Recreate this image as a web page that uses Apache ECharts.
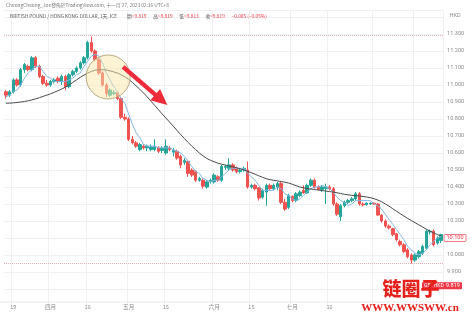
<!DOCTYPE html>
<html><head><meta charset="utf-8">
<script src="https://cdn.jsdelivr.net/npm/echarts@6/dist/echarts.min.js"></script>
<style>html,body{margin:0;padding:0;background:#fff}#c{width:472px;height:318px}</style>
</head><body><div id="c"></div>
<script>
// ---- data (GBP/HKD daily, 2018) ----
const dates = [
'2018-03-15','2018-03-16','2018-03-19','2018-03-20','2018-03-21','2018-03-22','2018-03-23','2018-03-26','2018-03-27','2018-03-28','2018-03-29','2018-03-30',
'2018-04-02','2018-04-03','2018-04-04','2018-04-05','2018-04-06','2018-04-09','2018-04-10','2018-04-11','2018-04-12','2018-04-13','2018-04-16','2018-04-17','2018-04-18','2018-04-19','2018-04-20','2018-04-23','2018-04-24','2018-04-25','2018-04-26','2018-04-27','2018-04-30',
'2018-05-01','2018-05-02','2018-05-03','2018-05-04','2018-05-07','2018-05-08','2018-05-09','2018-05-10','2018-05-11','2018-05-14','2018-05-15','2018-05-16','2018-05-17','2018-05-18','2018-05-21','2018-05-22','2018-05-23','2018-05-24','2018-05-25','2018-05-28','2018-05-29','2018-05-30','2018-05-31',
'2018-06-01','2018-06-04','2018-06-05','2018-06-06','2018-06-07','2018-06-08','2018-06-11','2018-06-12','2018-06-13','2018-06-14','2018-06-15','2018-06-18','2018-06-19','2018-06-20','2018-06-21','2018-06-22','2018-06-25','2018-06-26','2018-06-27','2018-06-28','2018-06-29',
'2018-07-02','2018-07-03','2018-07-04','2018-07-05','2018-07-06','2018-07-09','2018-07-10','2018-07-11','2018-07-12','2018-07-13','2018-07-16','2018-07-17','2018-07-18','2018-07-19','2018-07-20','2018-07-23','2018-07-24','2018-07-25','2018-07-26','2018-07-27','2018-07-30','2018-07-31',
'2018-08-01','2018-08-02','2018-08-03','2018-08-06','2018-08-07','2018-08-08','2018-08-09','2018-08-10','2018-08-13','2018-08-14','2018-08-15','2018-08-16','2018-08-17','2018-08-20','2018-08-21','2018-08-22','2018-08-23','2018-08-24','2018-08-27'];

const opens = [10.96,10.94,10.96,11.03,11.00,11.09,11.11,11.09,11.16,11.11,
 11.05,11.01,11.00,11.02,11.04,11.02,11.05,10.99,11.06,11.08,
 11.10,11.13,11.16,11.25,11.20,11.15,11.07,11.00,10.94,10.95,
 10.955,10.92,10.81,10.80,10.68,10.66,10.62,10.64,10.63,10.62,
 10.62,10.63,10.615,10.60,10.63,10.605,10.61,10.58,10.545,10.55,
 10.50,10.49,10.44,10.44,10.40,10.43,10.43,10.46,10.44,10.515,
 10.51,10.53,10.51,10.49,10.50,10.50,10.40,10.41,10.395,10.34,
 10.37,10.41,10.39,10.40,10.42,10.31,10.28,10.345,10.32,10.35,
 10.38,10.365,10.41,10.44,10.40,10.385,10.39,10.40,10.39,10.30,
 10.225,10.29,10.31,10.32,10.33,10.36,10.30,10.295,10.30,10.305,
 10.30,10.235,10.20,10.17,10.155,10.125,10.08,10.06,10.03,10.00,
 9.97,9.99,10.01,10.04,10.135,10.14,10.07,10.085];
const highs = [10.97,10.97,11.04,11.04,11.10,11.13,11.12,11.17,11.17,11.12,
 11.06,11.03,11.03,11.04,11.05,11.06,11.06,11.07,11.09,11.11,
 11.14,11.17,11.26,11.285,11.21,11.16,11.08,11.01,10.98,10.97,
 10.96,10.93,10.83,10.81,10.70,10.67,10.66,10.65,10.65,10.65,
 10.68,10.64,10.64,10.68,10.64,10.63,10.62,10.59,10.57,10.56,
 10.51,10.50,10.46,10.45,10.44,10.45,10.48,10.47,10.53,10.53,
 10.57,10.54,10.52,10.51,10.52,10.55,10.42,10.42,10.40,10.39,
 10.42,10.42,10.42,10.43,10.43,10.33,10.36,10.35,10.37,10.38,
 10.41,10.42,10.45,10.45,10.41,10.41,10.42,10.41,10.40,10.31,
 10.30,10.32,10.33,10.34,10.37,10.37,10.31,10.31,10.31,10.31,
 10.305,10.24,10.21,10.18,10.16,10.13,10.09,10.07,10.04,10.01,
 10.01,10.03,10.06,10.15,10.15,10.15,10.11,10.125];
const lows = [10.92,10.93,10.95,10.99,10.99,11.07,11.08,11.08,11.10,11.04,
 11.00,10.99,10.99,11.01,11.01,11.00,10.97,10.98,11.05,11.07,
 11.09,11.12,11.15,11.19,11.14,11.06,10.99,10.93,10.93,10.94,
 10.91,10.80,10.79,10.67,10.65,10.63,10.61,10.62,10.61,10.61,
 10.61,10.60,10.60,10.59,10.61,10.58,10.56,10.51,10.53,10.46,
 10.46,10.43,10.43,10.39,10.39,10.42,10.42,10.43,10.43,10.50,
 10.50,10.49,10.48,10.48,10.49,10.39,10.39,10.38,10.32,10.33,
 10.29,10.38,10.38,10.38,10.30,10.26,10.27,10.31,10.31,10.34,
 10.36,10.36,10.40,10.39,10.38,10.37,10.30,10.38,10.29,10.23,
 10.20,10.28,10.30,10.31,10.32,10.29,10.285,10.29,10.295,10.295,
 10.23,10.19,10.16,10.15,10.11,10.08,10.05,10.01,9.98,9.95,
 9.96,9.98,10.00,10.03,10.12,10.05,10.06,10.07];
const closes = [10.94,10.96,11.03,11.00,11.09,11.12,11.09,11.16,11.11,11.05,
 11.01,11.00,11.02,11.03,11.02,11.05,10.99,11.06,11.08,11.10,
 11.13,11.16,11.25,11.20,11.15,11.07,11.00,10.95,10.97,10.955,
 10.92,10.81,10.80,10.68,10.66,10.64,10.65,10.63,10.64,10.635,
 10.64,10.61,10.63,10.64,10.62,10.615,10.57,10.53,10.555,10.48,
 10.47,10.44,10.45,10.405,10.43,10.44,10.47,10.44,10.52,10.52,
 10.53,10.50,10.49,10.50,10.51,10.40,10.41,10.39,10.335,10.38,
 10.41,10.39,10.41,10.42,10.31,10.27,10.35,10.32,10.36,10.37,
 10.365,10.41,10.44,10.40,10.385,10.40,10.40,10.39,10.30,10.24,
 10.29,10.31,10.32,10.33,10.36,10.30,10.295,10.305,10.305,10.30,
 10.235,10.20,10.17,10.16,10.12,10.09,10.06,10.02,9.99,9.97,
 10.00,10.02,10.05,10.14,10.14,10.06,10.10,10.12];

// moving-average lines
const maShort = [10.93,10.94,10.96,10.97,11.00,11.04,11.07,11.09,11.11,11.11,
 11.08,11.05,11.04,11.02,11.02,11.02,11.02,11.03,11.04,11.06,
 11.07,11.11,11.14,11.17,11.18,11.17,11.13,11.07,11.03,10.99,
 10.96,10.92,10.89,10.83,10.77,10.72,10.69,10.65,10.64,10.64,
 10.64,10.63,10.63,10.63,10.63,10.62,10.61,10.60,10.58,10.55,
 10.52,10.49,10.48,10.45,10.44,10.43,10.44,10.44,10.46,10.48,
 10.50,10.51,10.51,10.51,10.51,10.48,10.46,10.44,10.41,10.38,
 10.38,10.38,10.38,10.40,10.39,10.36,10.35,10.33,10.32,10.33,
 10.35,10.37,10.39,10.40,10.40,10.41,10.40,10.39,10.37,10.34,
 10.32,10.31,10.29,10.30,10.32,10.32,10.32,10.32,10.32,10.30,
 10.29,10.27,10.24,10.21,10.18,10.15,10.12,10.09,10.05,10.03,
 10.01,10.00,10.01,10.03,10.06,10.08,10.10,10.11];
const maLong = [10.893,10.893,10.895,10.897,10.90,10.903,10.907,10.912,10.918,10.925,
 10.933,10.94,10.948,10.957,10.966,10.976,10.987,11.0,11.015,11.03,
 11.045,11.058,11.07,11.08,11.087,11.09,11.09,11.088,11.083,11.077,
 11.07,11.06,11.048,11.033,11.015,10.995,10.975,10.953,10.93,10.905,
 10.88,10.855,10.83,10.806,10.782,10.758,10.733,10.708,10.685,10.662,
 10.64,10.62,10.60,10.583,10.568,10.557,10.548,10.54,10.534,10.529,
 10.524,10.519,10.513,10.507,10.50,10.492,10.484,10.475,10.466,10.457,
 10.449,10.443,10.439,10.436,10.432,10.428,10.423,10.416,10.408,10.40,
 10.395,10.391,10.388,10.385,10.382,10.379,10.376,10.373,10.37,10.366,
 10.362,10.357,10.354,10.351,10.349,10.347,10.344,10.341,10.337,10.331,
 10.323,10.313,10.30,10.287,10.272,10.257,10.243,10.229,10.215,10.202,
 10.19,10.177,10.165,10.152,10.14,10.13,10.12,10.112];

// time-axis tick labels (category index -> text)
const tickIndex = [2, 12, 22, 33, 43, 56, 66, 77, 87];
const tickText  = ['19', '四月', '16', '五月', '15', '六月', '15', '七月', '16'];
const gridIndex = [2, 12, 22, 33, 43, 56, 66, 77, 87, 99, 110];

// price tags
const lastTag = 10.100;
const currentPrice = 9.819;

// annotation anchors (category index, price)
const circleAnchor = [27, 11.047];
const arrowFrom = [31, 11.106];
const arrowTo = [43, 10.882];

// ---- chart ----
const chart = echarts.init(document.getElementById('c'), null, {renderer: 'canvas'});
const candleData = dates.map((d, i) => [opens[i], closes[i], lows[i], highs[i]]);
const hiVal = Math.max(...highs), loVal = Math.min(...lows);
const tickMap = {}; tickIndex.forEach((k, j) => { tickMap[k] = tickText[j]; });
const gridSet = new Set(gridIndex);
const GRIDC = '#eef0f3';
const ySplitColors = ['rgba(0,0,0,0)'];
for (let k = 0; k < 20; k++) ySplitColors.push(GRIDC);
const NUMF = 'Roboto, "Noto Sans", sans-serif';
const CJKF = '"Noto Sans CJK TC", "Noto Sans", sans-serif';

chart.setOption({
  animation: false,
  backgroundColor: '#ffffff',
  grid: {left: 4, right: 29, top: 10, bottom: 12},
  xAxis: {
    type: 'category', data: dates, boundaryGap: true,
    axisLine: {show: false}, axisTick: {show: false},
    axisLabel: {
      interval: (i) => tickMap[i] !== undefined,
      formatter: (v, i) => tickMap[i] || '',
      fontSize: 5.6, color: '#8c8c8c', margin: -2, fontFamily: CJKF
    },
    splitLine: {show: true, interval: (i) => gridSet.has(i), lineStyle: {color: GRIDC, width: 1}}
  },
  yAxis: {
    type: 'value', position: 'right', min: 9.7, max: 11.441, interval: 0.1,
    axisLine: {show: false}, axisTick: {show: false},
    axisLabel: {
      margin: 4, fontSize: 5.6, color: '#8c8c8c', fontFamily: NUMF,
      formatter: (v) => (v < 9.85 || v > 11.35) ? '' : v.toFixed(3)
    },
    splitLine: {show: true, lineStyle: {color: ySplitColors, width: 1}}
  },
  series: [
    {
      type: 'candlestick', data: candleData, barWidth: 3, z: 2,
      itemStyle: {color: '#26a69a', color0: '#ef5350', borderColor: '#26a69a', borderColor0: '#ef5350', borderWidth: 1},
      markLine: {
        silent: true, symbol: ['none', 'none'], label: {show: false},
        lineStyle: {type: 'dotted', color: '#dfb3b3', width: 1},
        data: [{yAxis: hiVal}, {yAxis: loVal}]
      }
    },
    {type: 'line', data: maShort, showSymbol: false, symbol: 'none', z: 3,
     lineStyle: {color: '#86b6e6', width: 1}},
    {type: 'line', data: maLong, showSymbol: false, symbol: 'none', z: 3,
     lineStyle: {color: '#4a4a4a', width: 1}}
  ]
});

const px = (i, v) => chart.convertToPixel({gridIndex: 0}, [i, v]);
const band = px(1, 10)[0] - px(0, 10)[0];
const cc = px(circleAnchor[0], circleAnchor[1]);
const S = px(arrowFrom[0], arrowFrom[1]); S[0] += 0.5 * band;
const T = px(arrowTo[0], arrowTo[1]); T[0] += 0.4 * band;
const dx = T[0] - S[0], dy = T[1] - S[1], L = Math.hypot(dx, dy);
const ux = dx / L, uy = dy / L, nx = -uy, ny = ux;
const headLen = 16, headHalf = 7.5, shaftHalf = 2.2;
const B = [T[0] - ux * headLen, T[1] - uy * headLen];
const arrowPts = [
  [S[0] + nx * shaftHalf, S[1] + ny * shaftHalf],
  [B[0] + nx * shaftHalf, B[1] + ny * shaftHalf],
  [B[0] + nx * headHalf, B[1] + ny * headHalf],
  [T[0], T[1]],
  [B[0] - nx * headHalf, B[1] - ny * headHalf],
  [B[0] - nx * shaftHalf, B[1] - ny * shaftHalf],
  [S[0] - nx * shaftHalf, S[1] - ny * shaftHalf]
];
const yTag = px(0, lastTag)[1];
const yCur = px(0, currentPrice)[1];
const plotRight = px(dates.length - 1, 10)[0] + band / 2;

chart.setOption({
  graphic: [
    {type: 'line', z: 5, shape: {x1: 0, y1: 302, x2: plotRight, y2: 302}, style: {stroke: '#e8e8e8', lineWidth: 1}},
    {type: 'circle', z: 50, shape: {cx: cc[0] + 0.5 * band, cy: cc[1], r: 22},
     style: {fill: 'rgba(250,232,172,0.5)', stroke: '#bba97e', lineWidth: 1}},
    {type: 'polygon', z: 51, shape: {points: arrowPts}, style: {fill: '#ee2b3b'}},
    {type: 'text', z: 60, style: {x: 6, y: 5, text: 'CheongCheong_Joe發佈於TradingView.com, 十一月 27, 2023 02:36 UTC+8',
      fontSize: 4.8, fontFamily: CJKF, fill: '#777', verticalAlign: 'middle', align: 'left'}},
    {type: 'text', z: 60, style: {x: 10, y: 16,
      text: '{k|BRITISH POUND / HONG KONG DOLLAR, 1天, ICE}   {k|開}{r|=9.819}  {k|高}{r|=9.819}  {k|低}{r|=9.813}  {k|收}{r|=9.819}  {r|−0.005 (−0.05%)}',
      rich: {k: {fill: '#555', color: '#555', fontSize: 4.8, fontFamily: CJKF}, r: {fill: '#f23645', color: '#f23645', fontSize: 4.8, fontFamily: CJKF}},
      verticalAlign: 'middle', align: 'left'}},
    {type: 'text', z: 60, style: {x: 455, y: 16, text: 'HKD', fontSize: 5.6, fontFamily: NUMF, fill: '#888', align: 'center', verticalAlign: 'middle'}},
    {type: 'rect', z: 60, shape: {x: 444, y: yTag - 3.5, width: 22, height: 7, r: 1},
     style: {fill: '#fff', stroke: '#f07c84', lineWidth: 1}},
    {type: 'text', z: 61, style: {x: 455, y: yTag, text: lastTag.toFixed(3), fontSize: 5.6, fontFamily: NUMF, fill: '#f23645', align: 'center', verticalAlign: 'middle'}},
    {type: 'rect', z: 60, shape: {x: 422, y: yCur - 3.5, width: 40, height: 7, r: 1}, style: {fill: '#f23645'}},
    {type: 'text', z: 61, style: {x: 424, y: yCur, text: 'GBPHKD', fontSize: 5, fontFamily: NUMF, fill: '#fff', align: 'left', verticalAlign: 'middle'}},
    {type: 'text', z: 61, style: {x: 460, y: yCur, text: currentPrice.toFixed(3), fontSize: 5.6, fontFamily: NUMF, fill: '#fff', align: 'right', verticalAlign: 'middle'}},
    {type: 'text', z: 80, style: {x: 411, y: 289, text: '链圈子', fontSize: 19, fontWeight: 900, fontFamily: '"Noto Sans CJK SC", sans-serif', fill: '#e5211c', align: 'center', verticalAlign: 'middle'}},
    {type: 'text', z: 80, style: {x: 410, y: 308.5, text: 'WWW.WWSWW.cn', fontSize: 11, fontWeight: 'bold', fontFamily: '"Liberation Serif", "DejaVu Serif", serif', fill: '#e5211c', align: 'center', verticalAlign: 'middle'}}
  ]
});
</script>
</body></html>
